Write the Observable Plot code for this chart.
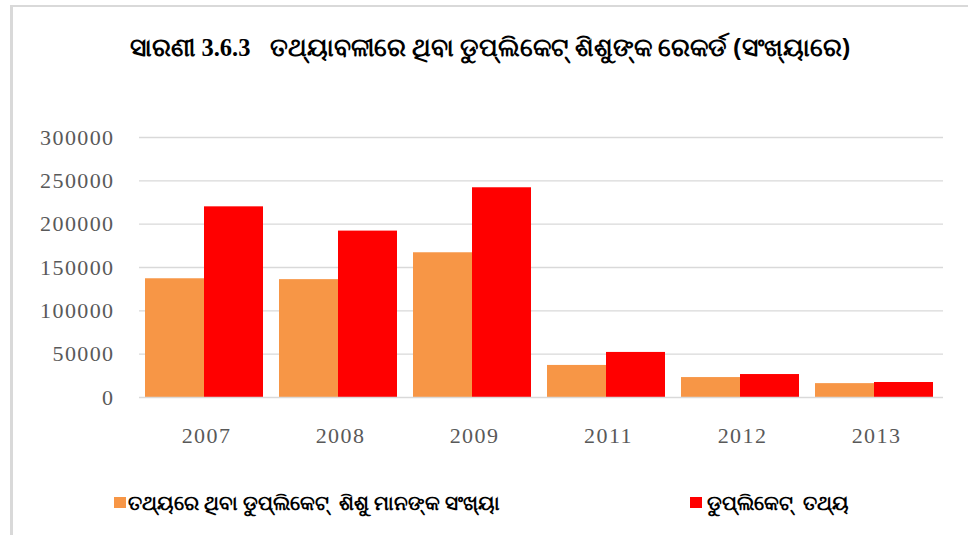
<!DOCTYPE html>
<html>
<head>
<meta charset="utf-8">
<script src="https://cdn.jsdelivr.net/npm/d3@7"></script>
<script src="https://cdn.jsdelivr.net/npm/@observablehq/plot@0.6"></script>
<style>
  body { margin: 0; background: #fff; }
  #wrap { position: relative; width: 968px; height: 535px; overflow: hidden; background: #fff; }
  #frame { position: absolute; left: 10px; top: 5px; width: 980px; height: 560px; border-left: 3px solid #d9d9d9; border-top: 2px solid #d9d9d9; box-sizing: border-box; }
  #title { position: absolute; left: 0; width: 980px; top: 30px; text-align: center; font-family: "Noto Sans", sans-serif; font-weight: bold; font-size: 24.5px; color: #000; white-space: pre; }
  #title .num { font-family: "Liberation Serif", serif; }
  #chart { position: absolute; left: 0; top: 0; }
  .leg { position: absolute; top: 489px; font-family: "Noto Sans", sans-serif; font-weight: bold; font-size: 19.5px; color: #000; white-space: pre; display: flex; align-items: center; }
  .sw { display: inline-block; width: 12px; height: 11px; margin-right: 2px; }
</style>
</head>
<body>
<div id="wrap">
  <div id="frame"></div>
  <div id="title">ସାରଣୀ <span class="num">3.6.3</span>   ତଥ୍ୟାବଳୀରେ ଥିବା ଡୁପ୍ଲିକେଟ୍ ଶିଶୁଙ୍କ ରେକର୍ଡ (ସଂଖ୍ୟାରେ)</div>
  <div id="chart"></div>
  <div class="leg" style="left:114px"><span class="sw" style="background:#F79646"></span>ତଥ୍ୟରେ ଥିବା ଡୁପ୍ଲିକେଟ୍  ଶିଶୁ ମାନଙ୍କ ସଂଖ୍ୟା</div>
  <div class="leg" style="left:690px"><span class="sw" style="background:#FF0000;margin-right:5px"></span>ଡୁପ୍ଲିକେଟ୍  ତଥ୍ୟ</div>
</div>
<script>
const years = ["2007", "2008", "2009", "2011", "2012", "2013"];
const seriesNames = ["ତଥ୍ୟରେ ଥିବା ଡୁପ୍ଲିକେଟ୍  ଶିଶୁ ମାନଙ୍କ ସଂଖ୍ୟା", "ଡୁପ୍ଲିକେଟ୍  ତଥ୍ୟ"];
const childrenCount = [137000, 136000, 167000, 37000, 23000, 16000];
const duplicateRecords = [220000, 192000, 242000, 52000, 26500, 17300];
const seriesColors = ["#F79646", "#FF0000"];
const yTicks = [0, 50000, 100000, 150000, 200000, 250000, 300000];

const data = [];
years.forEach((yr, i) => {
  data.push({year: yr, series: seriesNames[0], value: childrenCount[i]});
  data.push({year: yr, series: seriesNames[1], value: duplicateRecords[i]});
});

const chart = Plot.plot({
  width: 968,
  height: 460,
  marginTop: 137,
  marginBottom: 63,
  marginLeft: 137,
  marginRight: 24,
  style: {background: "transparent", fontFamily: "'Liberation Serif', serif"},
  fx: {domain: years, padding: 0, label: null, tickSize: 0, tickPadding: 30, axis: "bottom"},
  x: {domain: seriesNames, axis: null, paddingInner: 0, paddingOuter: 0.125, align: 0.35},
  y: {domain: [0, 300000], ticks: yTicks, tickSize: 0, tickPadding: 25, label: null, tickFormat: d => String(d)},
  color: {domain: seriesNames, range: seriesColors},
  marks: [
    Plot.ruleY(yTicks.slice(1), {stroke: "#d9d9d9", strokeWidth: 1.3}),
    Plot.barY(data, {fx: "year", x: "series", y: "value", fill: "series"}),
    Plot.ruleY([0], {stroke: "#d9d9d9", strokeWidth: 1.6})
  ]
});
d3.select(chart).selectAll("g[aria-label*='tick label'] text")
  .style("font-size", "22px").style("fill", "#595959").style("letter-spacing", "1.4px");
document.getElementById("chart").appendChild(chart);
</script>
</body>
</html>
